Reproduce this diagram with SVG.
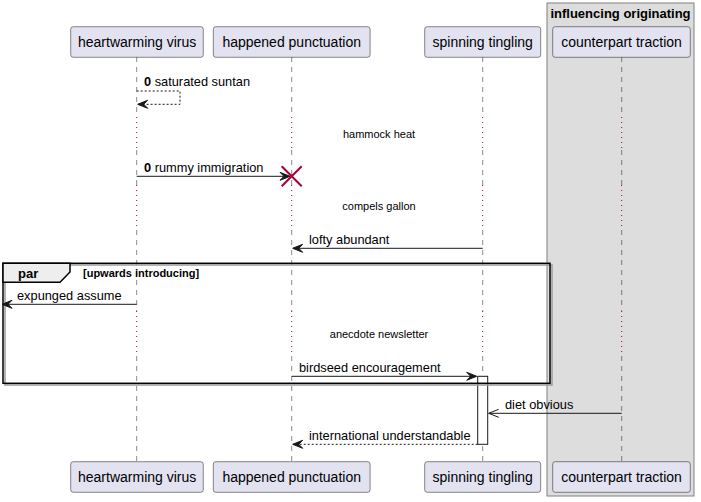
<svg xmlns="http://www.w3.org/2000/svg" width="701" height="502" viewBox="0 0 701 502">
<style>
text{font-family:"Liberation Sans",Arial,sans-serif;fill:#000}
.pt{font-size:14px}
.msg{font-size:12.8px}
.dl{font-size:11px;text-anchor:middle}
.b{font-weight:bold}
.pbox{fill:#E2E2F0;stroke:#181818;stroke-width:0.5}
.life{stroke:#181818;stroke-width:0.5;stroke-dasharray:5,5;fill:none}
.delay{stroke:#A80036;stroke-width:1;stroke-dasharray:1,4;fill:none}
.line{stroke:#181818;stroke-width:1;fill:none}
.dash{stroke:#181818;stroke-width:1;stroke-dasharray:2,2;fill:none}
.head{fill:#181818;stroke:#181818;stroke-width:1}
</style>
<g id="box-influencing-originating">
<rect x="547" y="3" width="147" height="493" fill="#DDDDDD" stroke="#808080" stroke-width="1"/>
<text x="620.5" y="18" class="b" font-size="13" text-anchor="middle">influencing originating</text>
</g>
<g id="lifelines">
<g id="lifeline-heartwarming">
<line class="life" x1="136.7" y1="57" x2="136.7" y2="117"/>
<line class="delay" x1="136.7" y1="117" x2="136.7" y2="150"/>
<line class="life" x1="136.7" y1="150" x2="136.7" y2="185"/>
<line class="delay" x1="136.7" y1="185" x2="136.7" y2="230"/>
<line class="life" x1="136.7" y1="230" x2="136.7" y2="311"/>
<line class="delay" x1="136.7" y1="311" x2="136.7" y2="356"/>
<line class="life" x1="136.7" y1="356" x2="136.7" y2="462"/>
</g>
<g id="lifeline-happened">
<line class="life" x1="291.7" y1="57" x2="291.7" y2="117"/>
<line class="delay" x1="291.7" y1="117" x2="291.7" y2="150"/>
<line class="life" x1="291.7" y1="150" x2="291.7" y2="185"/>
<line class="delay" x1="291.7" y1="185" x2="291.7" y2="230"/>
<line class="life" x1="291.7" y1="230" x2="291.7" y2="311"/>
<line class="delay" x1="291.7" y1="311" x2="291.7" y2="356"/>
<line class="life" x1="291.7" y1="356" x2="291.7" y2="462"/>
</g>
<g id="lifeline-spinning">
<line class="life" x1="482.7" y1="57" x2="482.7" y2="117"/>
<line class="delay" x1="482.7" y1="117" x2="482.7" y2="150"/>
<line class="life" x1="482.7" y1="150" x2="482.7" y2="185"/>
<line class="delay" x1="482.7" y1="185" x2="482.7" y2="230"/>
<line class="life" x1="482.7" y1="230" x2="482.7" y2="311"/>
<line class="delay" x1="482.7" y1="311" x2="482.7" y2="356"/>
<line class="life" x1="482.7" y1="356" x2="482.7" y2="462"/>
</g>
<g id="lifeline-counterpart">
<line class="life" x1="621.7" y1="57" x2="621.7" y2="117"/>
<line class="delay" x1="621.7" y1="117" x2="621.7" y2="150"/>
<line class="life" x1="621.7" y1="150" x2="621.7" y2="185"/>
<line class="delay" x1="621.7" y1="185" x2="621.7" y2="230"/>
<line class="life" x1="621.7" y1="230" x2="621.7" y2="311"/>
<line class="delay" x1="621.7" y1="311" x2="621.7" y2="356"/>
<line class="life" x1="621.7" y1="356" x2="621.7" y2="462"/>
</g>
</g>
<g id="activation-spinning">
<rect x="477.7" y="376.3" width="10" height="68" fill="#FFFFFF" stroke="#181818" stroke-width="1"/>
</g>
<g id="delays">
<text class="dl" x="379" y="138">hammock heat</text>
<text class="dl" x="379" y="210">compels gallon</text>
<text class="dl" x="379" y="338">anecdote newsletter</text>
</g>
<g id="par-frame">
<rect x="5" y="265" width="547" height="120" fill="none" stroke="#9A9A9A" stroke-width="1.5"/>
<rect x="3" y="263.3" width="547" height="120" fill="none" stroke="#000000" stroke-width="1.5"/>
<path d="M3,263.3 L70,263.3 L70,272 L60,282.3 L3,282.3 Z" fill="#EEEEEE" stroke="#000000" stroke-width="1.5"/>
<text x="18" y="277.5" class="b" font-size="13">par</text>
<text x="83" y="276.7" class="b" font-size="11">[upwards introducing]</text>
</g>
<g id="connectors">
<g id="msg-saturated-suntan">
<polyline class="dash" points="136.7,91 180,91 180,104.3 138,104.3"/>
<polygon class="head" points="147.7,100.3 137.7,104.3 147.7,108.3 143.7,104.3"/>
<text class="msg" x="144" y="86"><tspan class="b">0</tspan> saturated suntan</text>
</g>
<g id="msg-rummy-immigration">
<line class="line" x1="136.7" y1="176.3" x2="289" y2="176.3"/>
<polygon class="head" points="280,172.3 290,176.3 280,180.3 284,176.3"/>
<text class="msg" x="144" y="171.6"><tspan class="b">0</tspan> rummy immigration</text>
<path d="M281.7,166.3 L301.7,186.3 M281.7,186.3 L301.7,166.3" stroke="#A80036" stroke-width="2" fill="none"/>
</g>
<g id="msg-lofty-abundant">
<line class="line" x1="482.7" y1="248.3" x2="293" y2="248.3"/>
<polygon class="head" points="302.7,244.3 292.7,248.3 302.7,252.3 298.7,248.3"/>
<text class="msg" x="309" y="243.6">lofty abundant</text>
</g>
<g id="msg-expunged-assume">
<line class="line" x1="136.7" y1="304.3" x2="3" y2="304.3"/>
<polygon class="head" points="12,300.3 2,304.3 12,308.3 8,304.3"/>
<text class="msg" x="17" y="299.6">expunged assume</text>
</g>
<g id="msg-birdseed-encouragement">
<line class="line" x1="291.7" y1="376.3" x2="476" y2="376.3"/>
<polygon class="head" points="466.7,372.3 476.7,376.3 466.7,380.3 470.7,376.3"/>
<text class="msg" x="299" y="371.6">birdseed encouragement</text>
</g>
<g id="msg-diet-obvious">
<line class="line" x1="621.7" y1="413.3" x2="488.7" y2="413.3"/>
<polyline class="line" points="498.7,409.3 488.7,413.3 498.7,417.3"/>
<text class="msg" x="505" y="408.6">diet obvious</text>
</g>
<g id="msg-international-understandable">
<line class="dash" x1="477.7" y1="444.3" x2="293" y2="444.3"/>
<polygon class="head" points="302.7,440.3 292.7,444.3 302.7,448.3 298.7,444.3"/>
<text class="msg" x="309" y="439.6">international understandable</text>
</g>
</g>
<g id="participant-heartwarming-virus">
<rect class="pbox" x="70.7" y="26.7" width="132.6" height="30.6" rx="2.5"/>
<text class="pt" x="78" y="47.3">heartwarming virus</text>
<rect class="pbox" x="70.7" y="461.7" width="132.6" height="30.6" rx="2.5"/>
<text class="pt" x="78" y="482.3">heartwarming virus</text>
</g>
<g id="participant-happened-punctuation">
<rect class="pbox" x="213.3" y="26.7" width="156.8" height="30.6" rx="2.5"/>
<text class="pt" x="291.7" y="47.3" text-anchor="middle">happened punctuation</text>
<rect class="pbox" x="213.3" y="461.7" width="156.8" height="30.6" rx="2.5"/>
<text class="pt" x="291.7" y="482.3" text-anchor="middle">happened punctuation</text>
</g>
<g id="participant-spinning-tingling">
<rect class="pbox" x="424.7" y="26.7" width="116" height="30.6" rx="2.5"/>
<text class="pt" x="482.7" y="47.3" text-anchor="middle">spinning tingling</text>
<rect class="pbox" x="424.7" y="461.7" width="116" height="30.6" rx="2.5"/>
<text class="pt" x="482.7" y="482.3" text-anchor="middle">spinning tingling</text>
</g>
<g id="participant-counterpart-traction">
<rect class="pbox" x="552.7" y="26.7" width="137.6" height="30.6" rx="2.5"/>
<text class="pt" x="621.5" y="47.3" text-anchor="middle">counterpart traction</text>
<rect class="pbox" x="552.7" y="461.7" width="137.6" height="30.6" rx="2.5"/>
<text class="pt" x="621.5" y="482.3" text-anchor="middle">counterpart traction</text>
</g>
</svg>
